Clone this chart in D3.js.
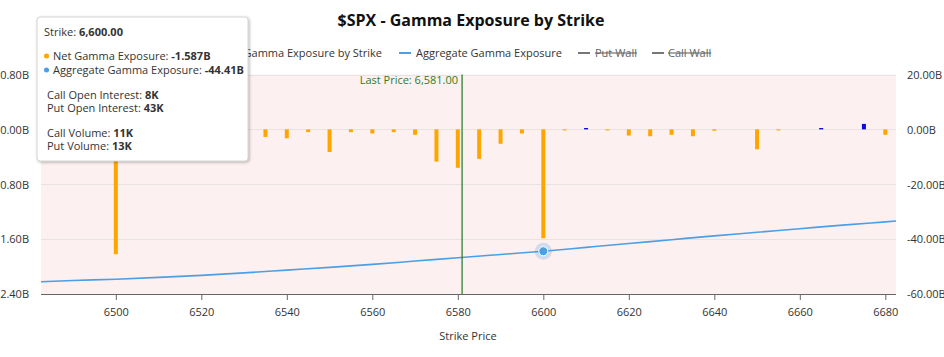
<!DOCTYPE html>
<html>
<head>
<meta charset="utf-8">
<script src="https://cdn.jsdelivr.net/npm/d3@7"></script>
<style>
  html, body { margin: 0; padding: 0; background: #fff; }
  svg { display: block; font-family: "Open Sans", "Noto Sans", sans-serif; }
</style>
</head>
<body>
<svg id="chart" width="944" height="357"></svg>
<script>
// ---- data ----
const netStrikes = [6500, 6505, 6510, 6515, 6520, 6525, 6530, 6535, 6540, 6545, 6550, 6555, 6560, 6565, 6570, 6575, 6580, 6585, 6590, 6595, 6600, 6605, 6610, 6615, 6620, 6625, 6630, 6635, 6640, 6650, 6655, 6665, 6675, 6680];
const netGamma   = [-1.82, -0.03, -0.05, -0.02, -0.07, -0.03, -0.05, -0.11, -0.13, -0.04, -0.33, -0.04, -0.06, -0.04, -0.08, -0.47, -0.56, -0.43, -0.21, -0.06, -1.587, -0.01, 0.02, -0.01, -0.09, -0.10, -0.08, -0.10, -0.02, -0.29, -0.01, 0.02, 0.08, -0.08];

const aggStrikes = [6480, 6490, 6500, 6510, 6520, 6530, 6540, 6550, 6560, 6570, 6580, 6590, 6600, 6610, 6620, 6630, 6640, 6650, 6660, 6670, 6680, 6690];
const aggGamma   = [-55.7, -55.1, -54.6, -53.95, -53.2, -52.3, -51.3, -50.3, -49.2, -48.0, -46.8, -45.6, -44.41, -43.0, -41.6, -40.2, -38.8, -37.5, -36.2, -34.9, -33.7, -32.5];

const xTicks = [6500, 6520, 6540, 6560, 6580, 6600, 6620, 6640, 6660, 6680];
const leftTicks = [0.8, 0, -0.8, -1.6, -2.4];
const rightTicks = [20, 0, -20, -40, -60];

const lastPrice = 6581;
const hoverStrike = 6600;
const hoverNet = -1.587;
const hoverAgg = -44.41;

const legendItems = ["Net Gamma Exposure by Strike", "Aggregate Gamma Exposure", "Put Wall", "Call Wall"];

// ---- layout ----
const W = 944, H = 357;
const plot = { left: 41, right: 896, top: 74.5, bottom: 294 };

const svg = d3.select("#chart");

const x = d3.scaleLinear().domain([6482.5, 6682.5]).range([plot.left, plot.right]);
const yL = d3.scaleLinear().domain([-2.4, 0.8]).range([plot.bottom, plot.top]);
const yR = d3.scaleLinear().domain([-60, 20]).range([plot.bottom, plot.top]);

const fmtB = v => (v < 0 ? "-" : "") + Math.abs(v).toFixed(2) + "B";

// plot background
svg.append("rect")
  .attr("x", plot.left).attr("y", plot.top)
  .attr("width", plot.right - plot.left).attr("height", plot.bottom - plot.top)
  .attr("fill", "#fdf0f0");

// clip
svg.append("defs").append("clipPath").attr("id", "clip")
  .append("rect")
  .attr("x", plot.left).attr("y", plot.top)
  .attr("width", plot.right - plot.left).attr("height", plot.bottom - plot.top);

// gridlines
svg.append("g").selectAll("line").data(leftTicks.filter(d => d !== -2.4)).join("line")
  .attr("x1", plot.left).attr("x2", plot.right)
  .attr("y1", d => Math.round(yL(d)) + 0.5).attr("y2", d => Math.round(yL(d)) + 0.5)
  .attr("stroke", "#e8e2e2").attr("stroke-width", 1);

// left axis labels
const gLeft = svg.append("g").attr("transform", `translate(${plot.left - 12},0)`);
const axL = d3.axisLeft(yL).tickValues(leftTicks).tickFormat(fmtB).tickSize(0).tickPadding(0);
gLeft.call(axL);
gLeft.select(".domain").remove();
gLeft.selectAll("text").attr("font-size", 11).attr("fill", "#333").attr("font-family", "Open Sans").attr("dy", "0.35em");

// right axis labels
const gRight = svg.append("g").attr("transform", `translate(${plot.right + 11},0)`);
const axR = d3.axisRight(yR).tickValues(rightTicks).tickFormat(fmtB).tickSize(0).tickPadding(0);
gRight.call(axR);
gRight.select(".domain").remove();
gRight.selectAll("text").attr("font-size", 11).attr("fill", "#333").attr("font-family", "Open Sans").attr("dy", "0.35em");

// bottom axis
const gX = svg.append("g").attr("transform", `translate(0,${plot.bottom})`);
const axX = d3.axisBottom(x).tickValues(xTicks).tickFormat(d3.format("d")).tickSize(6).tickPadding(8).tickSizeOuter(0);
gX.call(axX);
gX.select(".domain").attr("stroke", "#666").attr("d", `M${plot.left},0.5H${plot.right}`);
gX.selectAll(".tick line").attr("stroke", "#666");
gX.selectAll("text").attr("font-size", 11).attr("fill", "#333").attr("font-family", "Open Sans");

// x axis title
svg.append("text").attr("x", 468).attr("y", 340).attr("text-anchor", "middle")
  .attr("font-size", 11).attr("fill", "#333").text("Strike Price");

// bars
const netData = netStrikes.map((s, i) => ({ s, v: netGamma[i] }));
svg.append("g").attr("clip-path", "url(#clip)").selectAll("rect").data(netData).join("rect")
  .attr("x", d => x(d.s) - 2)
  .attr("width", 4)
  .attr("y", d => Math.min(yL(d.v), yL(0)))
  .attr("height", d => Math.max(1, Math.abs(yL(d.v) - yL(0))))
  .attr("fill", d => d.v >= 0 ? "#0a0ae8" : "#ffa500");

// aggregate line
const aggData = aggStrikes.map((s, i) => ({ s, v: aggGamma[i] }));
const line = d3.line().x(d => x(d.s)).y(d => yR(d.v)).curve(d3.curveMonotoneX);
svg.append("path").datum(aggData).attr("clip-path", "url(#clip)")
  .attr("d", line).attr("fill", "none").attr("stroke", "#4a9fe6").attr("stroke-width", 1.6);

// last price line
const lpX = x(lastPrice);
svg.append("line").attr("x1", lpX).attr("x2", lpX).attr("y1", plot.top).attr("y2", plot.bottom)
  .attr("stroke", "#1f7a1f").attr("stroke-width", 1.2);
svg.append("text").attr("x", lpX - 4).attr("y", 84).attr("text-anchor", "end")
  .attr("font-size", 11).attr("fill", "#2e7d1f").text("Last Price: 6,581.00");

// hover point
const hx = x(hoverStrike), hy = yR(hoverAgg);
svg.append("circle").attr("cx", hx).attr("cy", hy).attr("r", 8.5).attr("fill", "#4a9fe6").attr("opacity", 0.25);
svg.append("circle").attr("cx", hx).attr("cy", hy).attr("r", 4.5).attr("fill", "#4a9fe6").attr("stroke", "#fff").attr("stroke-width", 1);

// title
svg.append("text").attr("x", 471).attr("y", 26).attr("text-anchor", "middle")
  .attr("font-size", 16).attr("font-weight", "bold").attr("fill", "#111")
  .text("$SPX - Gamma Exposure by Strike");

// legend
const legY = 53;
const lg = svg.append("g");
// Net gamma (text right edge at 382)
const netText = lg.append("text").attr("x", 382).attr("y", legY + 4).attr("text-anchor", "end")
  .attr("font-size", 11).attr("fill", "#333").text(legendItems[0]);
const netW = netText.node().getComputedTextLength();
lg.append("rect").attr("x", 382 - netW - 14).attr("y", legY - 5).attr("width", 10).attr("height", 10).attr("fill", "#ffa500");
// Aggregate
lg.append("line").attr("x1", 399).attr("x2", 411).attr("y1", legY).attr("y2", legY).attr("stroke", "#4a9fe6").attr("stroke-width", 2);
lg.append("text").attr("x", 416).attr("y", legY + 4).attr("font-size", 11).attr("fill", "#333").text(legendItems[1]);
// Put wall (hidden)
lg.append("line").attr("x1", 578).attr("x2", 590).attr("y1", legY).attr("y2", legY).attr("stroke", "#777").attr("stroke-width", 2);
lg.append("text").attr("x", 595).attr("y", legY + 4).attr("font-size", 11).attr("fill", "#666")
  .style("text-decoration", "line-through").text(legendItems[2]);
// Call wall (hidden)
lg.append("line").attr("x1", 652).attr("x2", 664).attr("y1", legY).attr("y2", legY).attr("stroke", "#777").attr("stroke-width", 2);
lg.append("text").attr("x", 668).attr("y", legY + 4).attr("font-size", 11).attr("fill", "#666")
  .style("text-decoration", "line-through").text(legendItems[3]);

// tooltip
const defs = svg.select("defs");
const f = defs.append("filter").attr("id", "shadow").attr("x", "-10%").attr("y", "-10%").attr("width", "130%").attr("height", "130%");
f.append("feDropShadow").attr("dx", 1).attr("dy", 1).attr("stdDeviation", 1.5).attr("flood-color", "#000").attr("flood-opacity", 0.3);

const tt = svg.append("g").attr("transform", "translate(37,17)");
tt.append("rect").attr("x", 0).attr("y", 0).attr("width", 211).attr("height", 144).attr("rx", 3)
  .attr("fill", "#fff").attr("stroke", "#ccc").attr("stroke-width", 0.8).attr("filter", "url(#shadow)");

function ttLine(xp, yp, label, value) {
  const t = tt.append("text").attr("x", xp).attr("y", yp).attr("font-size", 11).attr("fill", "#333");
  t.append("tspan").text(label);
  t.append("tspan").attr("font-weight", "bold").text(value);
}
const fmtComma = d3.format(",.2f");
ttLine(7, 19, "Strike: ", fmtComma(hoverStrike));
tt.append("circle").attr("cx", 9.5).attr("cy", 39).attr("r", 2.5).attr("fill", "#ffa500");
ttLine(16, 43, "Net Gamma Exposure: ", hoverNet.toFixed(3) + "B");
tt.append("circle").attr("cx", 9.5).attr("cy", 53).attr("r", 2.5).attr("fill", "#4a9fe6");
ttLine(16, 57, "Aggregate Gamma Exposure: ", hoverAgg.toFixed(2) + "B");
ttLine(10, 82, "Call Open Interest: ", "8K");
ttLine(10, 95, "Put Open Interest: ", "43K");
ttLine(10, 120, "Call Volume: ", "11K");
ttLine(10, 133, "Put Volume: ", "13K");
</script>
</body>
</html>
